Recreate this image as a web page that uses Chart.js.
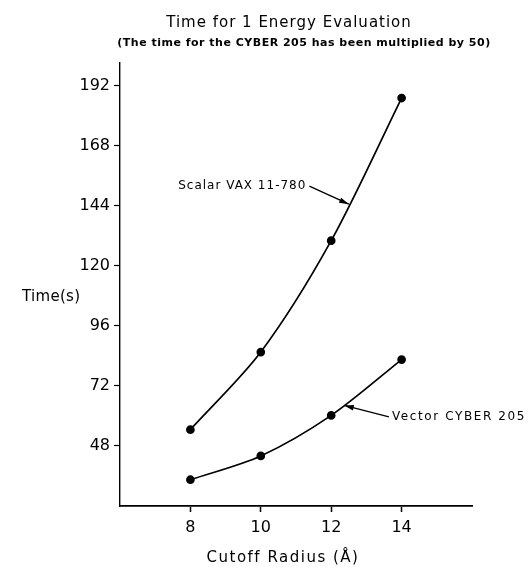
<!DOCTYPE html>
<html>
<head>
<meta charset="utf-8">
<script src="https://cdn.jsdelivr.net/npm/chart.js@4"></script>
<style>
  html, body { margin: 0; padding: 0; background: #fff; }
  canvas { display: block; }
</style>
</head>
<body>
<canvas id="timeChart" width="530" height="567"></canvas>
<script>
// Data
const radii = [8, 10, 12, 14];
const scalarVax = [54.5, 85.5, 130, 187];
const vectorCyber = [34.5, 44, 60.2, 82.5];
const xTicks = [8, 10, 12, 14];
const yTicks = [48, 72, 96, 120, 144, 168, 192];

const FONT = '"DejaVu Sans", sans-serif';
const INK = '#000';

// labels + arrows pointing at the curves
const callouts = [
    { text: 'Scalar VAX 11-780', from: [11.38, 151.8], to: [12.5, 144.6], align: 'right', spacing: '1px' },
    { text: 'Vector CYBER 205', from: [13.64, 59.6], to: [12.37, 64.2], align: 'left', spacing: '1.6px' }
];

const textPlugin = {
    id: 'figureText',
    afterDraw(chart) {
        const ctx = chart.ctx;
        const xs = chart.scales.x, ys = chart.scales.y;
        ctx.save();
        ctx.fillStyle = INK;
        ctx.strokeStyle = INK;
        ctx.textBaseline = 'middle';

        // titles
        ctx.textAlign = 'center';
        ctx.font = '15px ' + FONT;
        ctx.letterSpacing = '1px';
        ctx.fillText('Time for 1 Energy Evaluation', 289, 23);
        ctx.font = 'bold 11px ' + FONT;
        ctx.letterSpacing = '0.5px';
        ctx.fillText('(The time for the CYBER 205 has been multiplied by 50)', 304, 43);

        // axis titles
        ctx.font = '15px ' + FONT;
        ctx.letterSpacing = '0.3px';
        ctx.textAlign = 'left';
        ctx.fillText('Time(s)', 22, 297);
        ctx.textAlign = 'center';
        ctx.letterSpacing = '1.5px';
        ctx.fillText('Cutoff Radius (Å)', 283, 558);

        // callouts
        ctx.font = '12px ' + FONT;
        ctx.lineWidth = 1.4;
        callouts.forEach(c => {
            const x0 = xs.getPixelForValue(c.from[0]), y0 = ys.getPixelForValue(c.from[1]);
            const x1 = xs.getPixelForValue(c.to[0]), y1 = ys.getPixelForValue(c.to[1]);
            ctx.beginPath();
            ctx.moveTo(x0, y0);
            ctx.lineTo(x1, y1);
            ctx.stroke();
            const a = Math.atan2(y1 - y0, x1 - x0);
            ctx.beginPath();
            ctx.moveTo(x1, y1);
            ctx.lineTo(x1 - 10 * Math.cos(a - 0.28), y1 - 10 * Math.sin(a - 0.28));
            ctx.lineTo(x1 - 10 * Math.cos(a + 0.28), y1 - 10 * Math.sin(a + 0.28));
            ctx.closePath();
            ctx.fill();
            ctx.letterSpacing = c.spacing;
            ctx.textAlign = c.align;
            ctx.fillText(c.text, c.align === 'right' ? x0 - 3 : x0 + 3, y0);
        });
        ctx.restore();
    }
};

const ctx = document.getElementById('timeChart').getContext('2d');

new Chart(ctx, {
    type: 'line',
    data: {
        datasets: [{
            label: 'Scalar VAX 11-780',
            data: radii.map((r, i) => ({ x: r, y: scalarVax[i] })),
            borderColor: INK,
            backgroundColor: INK,
            borderWidth: 1.7,
            pointRadius: 3.5,
            tension: 0.3
        }, {
            label: 'Vector CYBER 205',
            data: radii.map((r, i) => ({ x: r, y: vectorCyber[i] })),
            borderColor: INK,
            backgroundColor: INK,
            borderWidth: 1.7,
            pointRadius: 3.5,
            tension: 0.3
        }]
    },
    options: {
        responsive: false,
        animation: false,
        devicePixelRatio: 1,
        layout: {
            padding: { top: 63, right: 58, left: 0, bottom: 0 }
        },
        plugins: {
            legend: { display: false },
            title: { display: false },
            tooltip: { enabled: false }
        },
        scales: {
            x: {
                type: 'linear',
                min: 6,
                max: 16,
                afterBuildTicks: scale => { scale.ticks = xTicks.map(v => ({ value: v })); },
                afterFit: scale => { scale.height = 61; },
                grid: { drawOnChartArea: false, drawTicks: true, tickLength: 6, color: INK, tickWidth: 1.5 },
                border: { display: true, color: INK, width: 1.8 },
                ticks: { color: INK, font: { family: FONT, size: 16 }, padding: 6 }
            },
            y: {
                type: 'linear',
                min: 24,
                max: 201,
                afterBuildTicks: scale => { scale.ticks = yTicks.map(v => ({ value: v })); },
                afterFit: scale => { scale.width = 120; },
                grid: { drawOnChartArea: false, drawTicks: true, tickLength: 6, color: INK, tickWidth: 1.2 },
                border: { display: true, color: INK, width: 1.4 },
                ticks: { color: INK, font: { family: FONT, size: 16 }, padding: 4 }
            }
        }
    },
    plugins: [textPlugin]
});
</script>
</body>
</html>
